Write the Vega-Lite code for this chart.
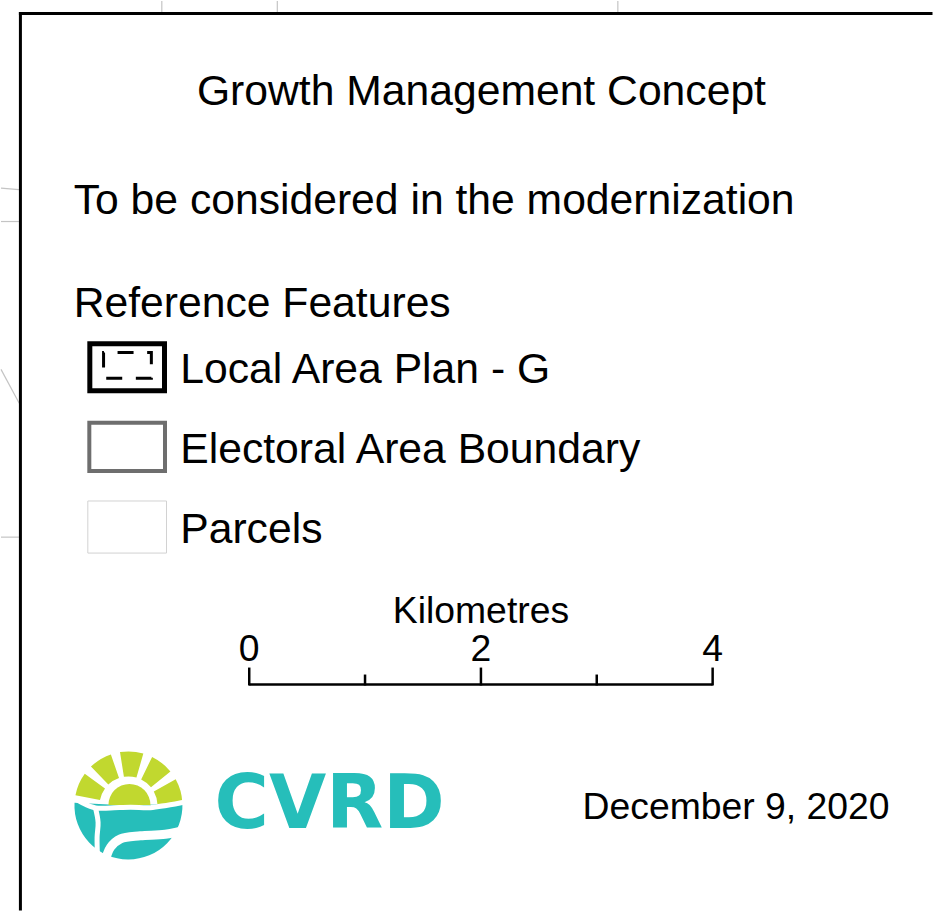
{
  "$schema": "https://vega.github.io/schema/vega-lite/v6.json",
  "width": 934,
  "height": 912,
  "autosize": {"type": "fit", "contains": "padding"},
  "padding": 0,
  "background": "white",
  "config": {"view": {"stroke": null}},
  "datasets": {
    "parcelLines": [
      {"x": 161.5, "y": 0, "x2": 161.5, "y2": 11},
      {"x": 277.5, "y": 0, "x2": 277.5, "y2": 11},
      {"x": 619.5, "y": 0, "x2": 619.5, "y2": 11},
      {"x": 0, "y": 188, "x2": 18, "y2": 189.5},
      {"x": 0, "y": 221.5, "x2": 18, "y2": 221.5},
      {"x": 0, "y": 370, "x2": 18.3, "y2": 404},
      {"x": 0, "y": 538.5, "x2": 18, "y2": 538.5}
    ],
    "frame": [
      {"side": "top", "x": 19.5, "y": 12.5, "x2": 934, "y2": 12.5},
      {"side": "left", "x": 19.5, "y": 12.5, "x2": 19.5, "y2": 912}
    ],
    "symbols": [
      {"item": "Local Area Plan - G", "part": "outer", "x": 89.2, "y": 344.2, "x2": 164.2, "y2": 391.5},
      {"item": "Local Area Plan - G", "part": "inner", "x": 103, "y": 353, "x2": 151, "y2": 379},
      {"item": "Electoral Area Boundary", "part": "outer", "x": 88.7, "y": 423.7, "x2": 164.7, "y2": 472},
      {"item": "Parcels", "part": "outer", "x": 87.2, "y": 502.2, "x2": 166.2, "y2": 554.5}
    ],
    "labels": [
      {"group": "title", "text": "Growth Management Concept", "x": 482.5, "y": 104.5},
      {"group": "left", "text": "To be considered in the modernization", "x": 73, "y": 213.5},
      {"group": "left", "text": "Reference Features", "x": 73, "y": 317.5},
      {"group": "left", "text": "Local Area Plan - G", "x": 180, "y": 384},
      {"group": "left", "text": "Electoral Area Boundary", "x": 180, "y": 464},
      {"group": "left", "text": "Parcels", "x": 180, "y": 544},
      {"group": "scale", "text": "Kilometres", "x": 482, "y": 625},
      {"group": "scale", "text": "0", "x": 249.3, "y": 663},
      {"group": "scale", "text": "2", "x": 482, "y": 663},
      {"group": "scale", "text": "4", "x": 714.7, "y": 663},
      {"group": "date", "text": "December 9, 2020", "x": 584, "y": 822}
    ],
    "scaleBar": [
      {"x": 249.3, "y": 686.5, "x2": 714.7, "y2": 686.5}
    ],
    "scaleTicks": [
      {"km": 0, "x": 249.3, "y": 687.5, "y2": 669.5},
      {"km": 1, "x": 365.6, "y": 687.5, "y2": 676.5},
      {"km": 2, "x": 482, "y": 687.5, "y2": 669.5},
      {"km": 3, "x": 598.3, "y": 687.5, "y2": 676.5},
      {"km": 4, "x": 714.7, "y": 687.5, "y2": 669.5}
    ],
    "logoTeal": [
      {"x": 128, "y": 808, "t1": 88, "t2": 273}
    ],
    "logoRays": [
      {"ray": 1, "x": 128, "y": 808, "t1": -79, "t2": -54},
      {"ray": 2, "x": 128, "y": 808, "t1": -44, "t2": -19},
      {"ray": 3, "x": 128, "y": 808, "t1": -9, "t2": 16},
      {"ray": 4, "x": 128, "y": 808, "t1": 26, "t2": 51},
      {"ray": 5, "x": 128, "y": 808, "t1": 61, "t2": 87}
    ],
    "logoSun": [
      {"x": 129, "y": 807.5, "t1": -90, "t2": 90}
    ],
    "logoWaves": [
      {"curve": "a", "i": 0, "x": 68, "y": 797},
      {"curve": "a", "i": 1, "x": 82, "y": 805.5},
      {"curve": "a", "i": 2, "x": 95, "y": 810.5},
      {"curve": "a", "i": 3, "x": 110, "y": 810.5},
      {"curve": "a", "i": 4, "x": 130, "y": 809.8},
      {"curve": "a", "i": 5, "x": 150, "y": 810.2},
      {"curve": "a", "i": 6, "x": 166, "y": 808},
      {"curve": "a", "i": 7, "x": 188, "y": 804},
      {"curve": "b", "i": 0, "x": 95, "y": 811},
      {"curve": "b", "i": 1, "x": 97.5, "y": 825},
      {"curve": "b", "i": 2, "x": 96.5, "y": 840},
      {"curve": "b", "i": 3, "x": 97, "y": 862}
    ],
    "logoWaveLow": [
      {"curve": "c", "i": 0, "x": 104, "y": 866},
      {"curve": "c", "i": 1, "x": 110, "y": 850},
      {"curve": "c", "i": 2, "x": 120, "y": 841.5},
      {"curve": "c", "i": 3, "x": 140, "y": 838.5},
      {"curve": "c", "i": 4, "x": 165, "y": 837},
      {"curve": "c", "i": 5, "x": 192, "y": 831}
    ],
    "logoText": [
      {"text": "CVRD", "x": 330, "y": 831}
    ]
  },
  "encoding": {
    "x": {"field": "x", "type": "quantitative", "scale": {"domain": [0, 934], "nice": false, "zero": false}, "axis": null},
    "y": {"field": "y", "type": "quantitative", "scale": {"domain": [0, 912], "nice": false, "zero": false, "reverse": true}, "axis": null}
  },
  "layer": [
    {
      "data": {"name": "parcelLines"},
      "mark": {"type": "rule", "color": "#c4c4c4", "strokeWidth": 1.2},
      "encoding": {"x2": {"field": "x2"}, "y2": {"field": "y2"}}
    },
    {
      "data": {"name": "frame"},
      "mark": {"type": "rule", "color": "#000000", "strokeWidth": 3, "strokeCap": "square"},
      "encoding": {"x2": {"field": "x2"}, "y2": {"field": "y2"}}
    },
    {
      "data": {"name": "symbols"},
      "transform": [{"filter": "datum.item === 'Local Area Plan - G' && datum.part === 'outer'"}],
      "mark": {"type": "rect", "filled": false, "stroke": "#000000", "strokeWidth": 5},
      "encoding": {"x2": {"field": "x2"}, "y2": {"field": "y2"}}
    },
    {
      "data": {"name": "symbols"},
      "transform": [{"filter": "datum.item === 'Local Area Plan - G' && datum.part === 'inner'"}],
      "mark": {"type": "rect", "filled": false, "stroke": "#000000", "strokeWidth": 3, "strokeDash": [16, 13.6], "strokeDashOffset": 15.6},
      "encoding": {"x2": {"field": "x2"}, "y2": {"field": "y2"}}
    },
    {
      "data": {"name": "symbols"},
      "transform": [{"filter": "datum.item === 'Electoral Area Boundary'"}],
      "mark": {"type": "rect", "filled": false, "stroke": "#6e6e6e", "strokeWidth": 4},
      "encoding": {"x2": {"field": "x2"}, "y2": {"field": "y2"}}
    },
    {
      "data": {"name": "symbols"},
      "transform": [{"filter": "datum.item === 'Parcels'"}],
      "mark": {"type": "rect", "filled": false, "stroke": "#d2d2d2", "strokeWidth": 1},
      "encoding": {"x2": {"field": "x2"}, "y2": {"field": "y2"}}
    },
    {
      "data": {"name": "labels"},
      "transform": [{"filter": "datum.group === 'title'"}],
      "mark": {"type": "text", "font": "Liberation Sans", "fontSize": 42.67, "color": "#000000", "align": "center", "baseline": "alphabetic"},
      "encoding": {"text": {"field": "text"}}
    },
    {
      "data": {"name": "labels"},
      "transform": [{"filter": "datum.group === 'left'"}],
      "mark": {"type": "text", "font": "Liberation Sans", "fontSize": 42.67, "color": "#000000", "align": "left", "baseline": "alphabetic"},
      "encoding": {"text": {"field": "text"}}
    },
    {
      "data": {"name": "labels"},
      "transform": [{"filter": "datum.group === 'scale'"}],
      "mark": {"type": "text", "font": "Liberation Sans", "fontSize": 37.33, "color": "#000000", "align": "center", "baseline": "alphabetic"},
      "encoding": {"text": {"field": "text"}}
    },
    {
      "data": {"name": "labels"},
      "transform": [{"filter": "datum.group === 'date'"}],
      "mark": {"type": "text", "font": "Liberation Sans", "fontSize": 37.33, "color": "#000000", "align": "left", "baseline": "alphabetic"},
      "encoding": {"text": {"field": "text"}}
    },
    {
      "data": {"name": "scaleBar"},
      "mark": {"type": "rule", "color": "#000000", "strokeWidth": 2.5},
      "encoding": {"x2": {"field": "x2"}, "y2": {"field": "y2"}}
    },
    {
      "data": {"name": "scaleTicks"},
      "mark": {"type": "rule", "color": "#000000", "strokeWidth": 2.5},
      "encoding": {"y2": {"field": "y2"}}
    },
    {
      "data": {"name": "logoTeal"},
      "mark": {"type": "arc", "color": "#26BEBA", "outerRadius": 54, "innerRadius": 0},
      "encoding": {
        "theta": {"field": "t1", "type": "quantitative", "scale": {"domain": [0, 360], "range": [0, 6.283185]}, "stack": null},
        "theta2": {"field": "t2"}
      }
    },
    {
      "data": {"name": "logoRays"},
      "mark": {"type": "arc", "color": "#C1D82F", "outerRadius": 54, "innerRadius": 29},
      "encoding": {
        "theta": {"field": "t1", "type": "quantitative", "scale": {"domain": [0, 360], "range": [0, 6.283185]}, "stack": null},
        "theta2": {"field": "t2"}
      }
    },
    {
      "data": {"name": "logoSun"},
      "mark": {"type": "arc", "color": "#C1D82F", "outerRadius": 21, "innerRadius": 0},
      "encoding": {
        "theta": {"field": "t1", "type": "quantitative", "scale": {"domain": [0, 360], "range": [0, 6.283185]}, "stack": null},
        "theta2": {"field": "t2"}
      }
    },
    {
      "data": {"name": "logoWaves"},
      "mark": {"type": "line", "color": "#ffffff", "strokeWidth": 5, "interpolate": "catmull-rom", "strokeCap": "round"},
      "encoding": {"detail": {"field": "curve"}, "order": {"field": "i", "type": "quantitative"}}
    },
    {
      "data": {"name": "logoWaveLow"},
      "mark": {"type": "line", "color": "#ffffff", "strokeWidth": 9, "interpolate": "catmull-rom", "strokeCap": "round"},
      "encoding": {"detail": {"field": "curve"}, "order": {"field": "i", "type": "quantitative"}}
    },
    {
      "data": {"name": "logoText"},
      "mark": {"type": "text", "font": "DejaVu Sans", "fontWeight": "bold", "fontSize": 74, "color": "#26BEBA", "align": "center", "baseline": "alphabetic"},
      "encoding": {"text": {"field": "text"}}
    }
  ]
}
